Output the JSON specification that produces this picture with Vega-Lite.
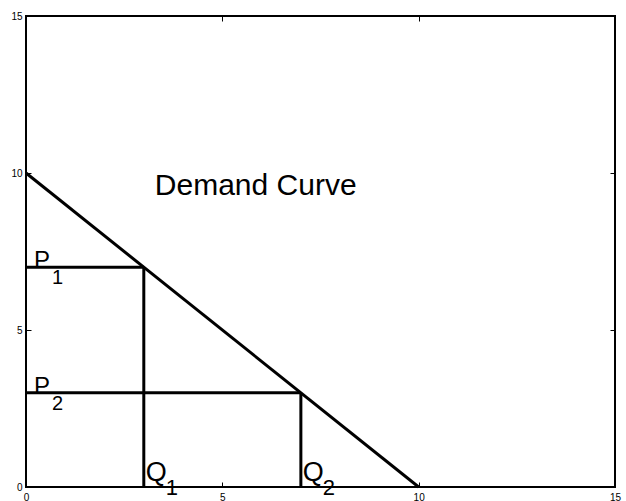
{
  "$schema": "https://vega.github.io/schema/vega-lite/v6.json",
  "width": 589,
  "height": 471,
  "autosize": {"type": "none"},
  "padding": {"left": 26, "top": 16, "right": 11, "bottom": 14},
  "background": "white",
  "config": {
    "view": {"stroke": "black", "strokeWidth": 2},
    "font": "Liberation Sans",
    "axis": {
      "grid": false,
      "domain": false,
      "tickColor": "black",
      "tickSize": -5,
      "tickWidth": 1,
      "labelFont": "Liberation Sans",
      "labelFontSize": 10,
      "labelColor": "black",
      "title": null
    }
  },
  "datasets": {
    "segs": [
      {"name": "demand", "x": 0, "y": 10, "x2": 10, "y2": 0},
      {"name": "p1h", "x": 0, "y": 7, "x2": 3, "y2": 7},
      {"name": "q1v", "x": 3, "y": 0, "x2": 3, "y2": 7},
      {"name": "p2h", "x": 0, "y": 3, "x2": 7, "y2": 3},
      {"name": "q2v", "x": 7, "y": 0, "x2": 7, "y2": 3}
    ],
    "labels": [
      {"kind": "P", "letter": "P", "sub": "1", "x": 0, "y": 7},
      {"kind": "P", "letter": "P", "sub": "2", "x": 0, "y": 3},
      {"kind": "Q", "letter": "Q", "sub": "1", "x": 3, "y": 0},
      {"kind": "Q", "letter": "Q", "sub": "2", "x": 7, "y": 0}
    ],
    "title": [
      {"text": "Demand Curve", "x": 5.85, "y": 9.6}
    ]
  },
  "resolve": {"axis": {"x": "independent", "y": "independent"}},
  "layer": [
    {
      "data": {"name": "segs"},
      "mark": {"type": "rule", "color": "black", "strokeWidth": 3},
      "encoding": {
        "x": {"field": "x", "type": "quantitative", "scale": {"domain": [0, 15], "nice": false, "zero": false},
              "axis": {"orient": "bottom", "values": [0, 5, 10, 15], "labelPadding": 10, "labelFlush": false, "labelOverlap": false}},
        "y": {"field": "y", "type": "quantitative", "scale": {"domain": [0, 15], "nice": false, "zero": false},
              "axis": {"orient": "left", "values": [0, 5, 10, 15], "labelPadding": 9, "labelFlush": false, "labelOverlap": false}},
        "x2": {"field": "x2"},
        "y2": {"field": "y2"}
      }
    },
    {
      "data": {"name": "segs"},
      "mark": {"type": "rule", "opacity": 0},
      "encoding": {
        "x": {"field": "x", "type": "quantitative", "axis": {"orient": "top", "values": [0, 5, 10, 15], "labels": false}},
        "y": {"field": "y", "type": "quantitative", "axis": {"orient": "right", "values": [0, 5, 10, 15], "labels": false}}
      }
    },
    {
      "data": {"name": "title"},
      "mark": {"type": "text", "fontSize": 30, "align": "center", "baseline": "middle", "color": "black"},
      "encoding": {
        "x": {"field": "x", "type": "quantitative", "axis": null},
        "y": {"field": "y", "type": "quantitative", "axis": null},
        "text": {"field": "text"}
      }
    },
    {
      "data": {"name": "labels"},
      "transform": [{"filter": "datum.kind === 'P'"}],
      "mark": {"type": "text", "fontSize": 24, "align": "left", "baseline": "alphabetic", "dx": 8, "dy": 1, "color": "black"},
      "encoding": {
        "x": {"field": "x", "type": "quantitative", "axis": null},
        "y": {"field": "y", "type": "quantitative", "axis": null},
        "text": {"field": "letter"}
      }
    },
    {
      "data": {"name": "labels"},
      "transform": [{"filter": "datum.kind === 'P'"}],
      "mark": {"type": "text", "fontSize": 20, "align": "left", "baseline": "alphabetic", "dx": 26, "dy": 17, "color": "black"},
      "encoding": {
        "x": {"field": "x", "type": "quantitative", "axis": null},
        "y": {"field": "y", "type": "quantitative", "axis": null},
        "text": {"field": "sub"}
      }
    },
    {
      "data": {"name": "labels"},
      "transform": [{"filter": "datum.kind === 'Q'"}],
      "mark": {"type": "text", "fontSize": 27, "align": "left", "baseline": "alphabetic", "dx": 2, "dy": -6, "color": "black"},
      "encoding": {
        "x": {"field": "x", "type": "quantitative", "axis": null},
        "y": {"field": "y", "type": "quantitative", "axis": null},
        "text": {"field": "letter"}
      }
    },
    {
      "data": {"name": "labels"},
      "transform": [{"filter": "datum.kind === 'Q'"}],
      "mark": {"type": "text", "fontSize": 22, "align": "left", "baseline": "alphabetic", "dx": 22, "dy": 8, "color": "black"},
      "encoding": {
        "x": {"field": "x", "type": "quantitative", "axis": null},
        "y": {"field": "y", "type": "quantitative", "axis": null},
        "text": {"field": "sub"}
      }
    }
  ]
}
